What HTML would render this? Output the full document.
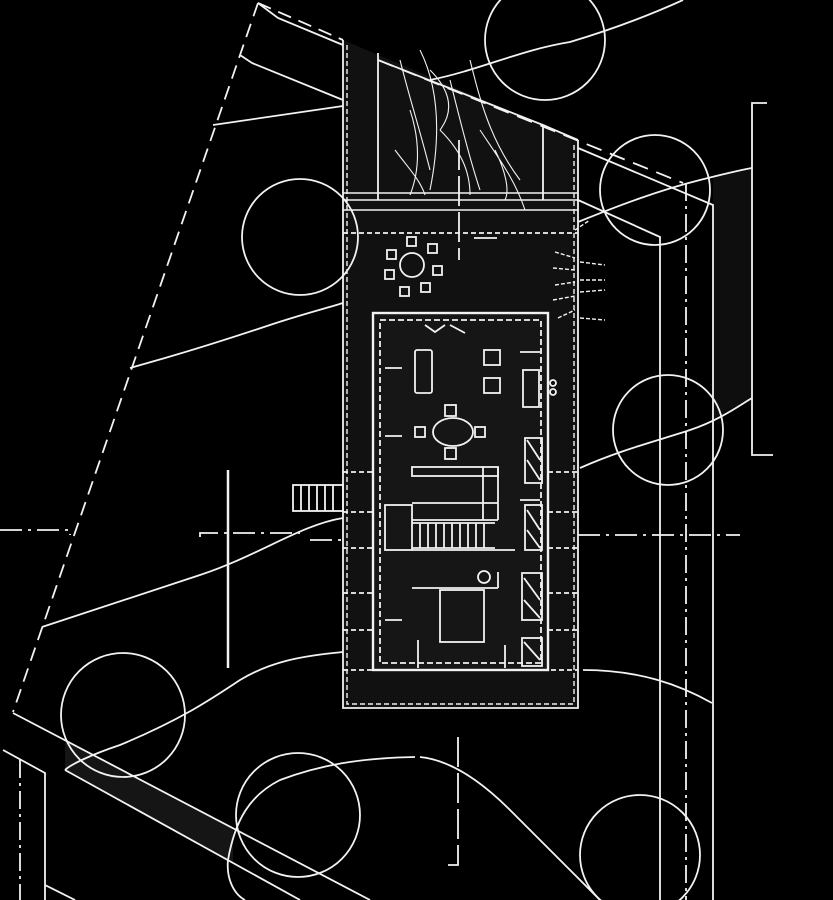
<!DOCTYPE html>
<html><head><meta charset="utf-8"><style>html,body{margin:0;padding:0;background:#000;}svg{display:block}</style></head>
<body>
<svg width="833" height="900" viewBox="0 0 833 900" xmlns="http://www.w3.org/2000/svg">
<rect width="833" height="900" fill="#000"/>
<!-- building footprint -->
<polygon points="343,40 578,140 578,708 343,708" fill="#111"/>
<rect x="373" y="313" width="175" height="357" fill="#161616"/>
<polygon points="713,175 752,168 752,400 713,420" fill="#0e0e0e"/>
<polygon points="65,740 65,770 233,863 233,829" fill="#151515"/>
<g fill="none" stroke="#f2f2f2" stroke-width="1.8">
<!-- property lines -->
<path d="M258,3 L13,712" stroke-dasharray="14,8"/>
<path d="M258,3 L343,40" stroke-dasharray="14,8"/>
<path d="M378,60 L683,183" stroke-dasharray="16,9"/>
<path d="M686,183 L686,900" stroke-dasharray="18,5,3,5"/>
<path d="M578,148 L713,205 L713,900"/>
<path d="M578,200 L660,237 L660,900"/>
<path d="M13,713 L370,900"/>
<path d="M65,770 L300,900"/>
<path d="M3,750 L45,773 L45,900 M45,885 L75,900" />
<path d="M20,760 L20,900" stroke-dasharray="18,5,3,5"/>
<path d="M0,530 L70,530 L70,535" stroke-dasharray="22,6,3,6"/>
<path d="M200,537 L200,533 L300,533" stroke-dasharray="22,6,3,6"/>
<path d="M310,540 L343,540 M578,535 L740,535" stroke-dasharray="22,6,3,6"/>
<path d="M458,737 L458,865 L448,865" stroke-dasharray="30,6"/>
<!-- right bracket -->
<path d="M767,103 L752,103 L752,455 L773,455"/>
<path d="M228,470 L228,668" stroke-width="2.5"/>
<!-- trees -->
<circle cx="545" cy="40" r="60"/>
<circle cx="300" cy="237" r="58"/>
<circle cx="655" cy="190" r="55"/>
<circle cx="668" cy="430" r="55"/>
<circle cx="123" cy="715" r="62"/>
<circle cx="298" cy="815" r="62"/>
<circle cx="640" cy="855" r="60"/>
<!-- contours -->
<path d="M258,3 L278,18 L343,45"/>
<path d="M240,55 L252,63 L343,100"/>
<path d="M213,125 L343,106"/>
<path d="M130,368 L165,358 C210,345 240,335 270,325 C300,315 320,310 343,303"/>
<path d="M42,627 C80,615 140,595 200,575 C260,555 300,525 343,518"/>
<path d="M343,652 C300,656 270,662 240,680 C210,700 180,720 120,745 C90,755 70,765 65,770"/>
<path d="M415,757 C360,758 320,765 280,780 C250,795 235,820 228,860 C226,880 235,895 245,900"/>
<path d="M420,757 C450,760 480,780 510,810 C540,840 570,870 600,900"/>
<path d="M430,80 C480,70 520,50 570,42 C610,30 650,15 683,0"/>
<path d="M578,222 C620,205 660,190 700,180 C720,175 740,170 752,168"/>
<path d="M580,468 C620,450 660,440 690,430 C720,420 740,405 752,398"/>
<path d="M583,670 C640,670 680,685 712,703"/>
<!-- building outline -->
<path d="M343,40 L343,708 L578,708 L578,140"/>
<path d="M378,53 L378,200 M378,60 L543,125 L543,200 M543,125 L578,140"/>
<path d="M347,45 L347,704 L574,704 L574,145" stroke-dasharray="5,3" stroke-width="1.4"/>
<path d="M343,193 L578,193 M343,200 L578,200 M343,210 L578,210" stroke-width="1.4"/>
<path d="M343,233 L578,233" stroke-dasharray="5,3"/>
<path d="M459,140 L459,260" stroke-dasharray="30,6"/>
<path d="M474,238 L497,238"/>
<!-- grass strokes -->
<path d="M400,60 C410,100 420,130 430,170 M420,50 C440,90 440,140 430,190 M450,80 C460,120 470,160 480,190 M470,60 C480,100 490,140 520,180 M410,110 C420,140 420,170 410,195 M395,150 C410,170 420,180 425,195 M480,130 C500,160 515,180 525,210 M440,130 C460,150 470,170 470,195 M495,150 C505,170 510,190 505,200 M430,70 C450,90 455,110 440,130" stroke-width="1.1"/>
<!-- round table -->
<circle cx="412" cy="265" r="12"/>
<rect x="407" y="237" width="9" height="9"/><rect x="428" y="244" width="9" height="9"/><rect x="433" y="266" width="9" height="9"/><rect x="421" y="283" width="9" height="9"/><rect x="400" y="287" width="9" height="9"/><rect x="385" y="270" width="9" height="9"/><rect x="387" y="250" width="9" height="9"/>
<!-- right fins -->
<path d="M555,252 L575,258 M553,268 L575,270 M555,285 L575,282 M553,300 L575,296 M558,318 L575,310 M575,230 L590,220 M580,262 L605,265 M580,280 L605,280 M580,292 L605,290 M580,318 L605,320" stroke-width="1.4" stroke-dasharray="4,2"/>
<!-- side stairs -->
<rect x="293" y="485" width="50" height="26"/>
<path d="M301,485 V511 M309,485 V511 M317,485 V511 M325,485 V511 M333,485 V511"/>
<!-- deck bays -->
<path d="M343,472 H373 M343,512 H373 M343,548 H373 M343,593 H373 M343,630 H373 M548,472 H578 M548,512 H578 M548,548 H578 M548,593 H578 M548,630 H578 M343,670 H578" stroke-dasharray="5,3"/>
<!-- house -->
<rect x="373" y="313" width="175" height="357" stroke-width="2.4"/>
<rect x="380" y="320" width="161" height="343" stroke-dasharray="6,3"/>
<path d="M425,325 L435,332 L445,325 M450,325 L465,333"/>
<rect x="415" y="350" width="17" height="43" rx="2"/>
<rect x="484" y="350" width="16" height="15"/><rect x="484" y="378" width="16" height="15"/>
<rect x="523" y="370" width="16" height="37"/>
<circle cx="553" cy="383" r="3"/><circle cx="553" cy="392" r="3"/>
<ellipse cx="453" cy="432" rx="20" ry="14"/>
<rect x="445" y="405" width="11" height="11"/><rect x="445" y="448" width="11" height="11"/><rect x="415" y="427" width="10" height="10"/><rect x="475" y="427" width="10" height="10"/>
<path d="M385,368 H402 M385,436 H402 M520,352 H540 M520,500 H540"/>
<rect x="412" y="467" width="86" height="9"/>
<path d="M483,467 V520 M498,467 V520 M412,503 H498 M412,520 H498"/>
<path d="M412,523 H495 M412,548 H495 M420,523 V548 M428,523 V548 M436,523 V548 M444,523 V548 M452,523 V548 M460,523 V548 M468,523 V548 M476,523 V548 M484,523 V548"/>
<rect x="385" y="505" width="27" height="45"/>
<path d="M412,550 H515 M412,588 H498 M498,572 V588"/>
<circle cx="484" cy="577" r="6"/>
<rect x="440" y="590" width="44" height="52"/>
<rect x="525" y="438" width="17" height="45"/><rect x="525" y="505" width="17" height="45"/><rect x="522" y="573" width="20" height="47"/><rect x="522" y="638" width="20" height="28"/>
<path d="M527,440 L540,460 M527,460 L540,480 M527,510 L540,530 M527,530 L540,548 M524,578 L540,600 M524,600 L540,618 M524,642 L540,660"/>
<path d="M385,620 H402 M418,640 V668 M505,645 V668"/>
</g>
</svg>
</body></html>
